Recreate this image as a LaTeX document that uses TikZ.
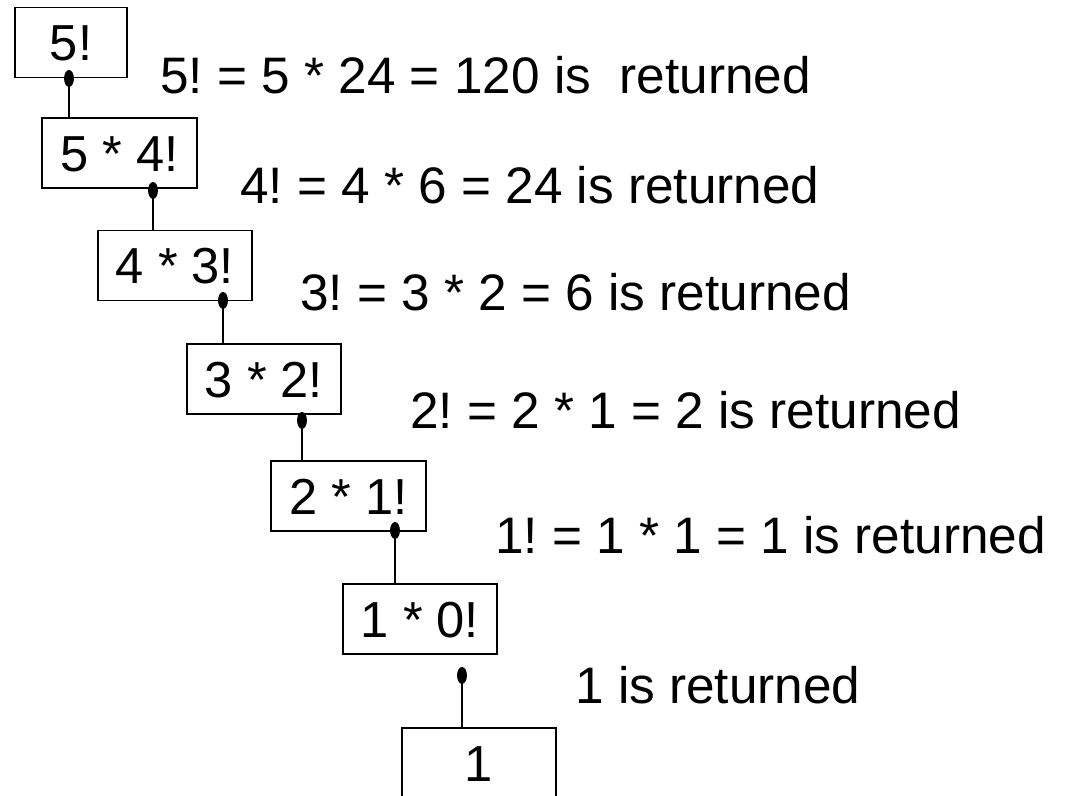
\documentclass[tikz,border=0pt]{standalone}
\usepackage{fontspec}
\setmainfont{Liberation Sans}
\usepackage{tikz}
\usetikzlibrary{arrows.meta, positioning}
\frenchspacing

\tikzset{
	callbox/.style={draw, line width=1.4pt, minimum width=3.85cm, minimum height=1.75cm, inner sep=0pt, text height=26pt, text depth=0pt, font=\fontsize{36}{40}\selectfont},
	retlabel/.style={anchor=west, inner sep=0pt, font=\fontsize{36.5}{40}\selectfont},
	link/.style={line width=1pt, {Ellipse[length=12pt, width=7pt]}-}
}

\begin{document}
\begin{tikzpicture}[x=0.025cm, y=-0.025cm]
		\useasboundingbox (0,0) rectangle (1073,796);
		% Paths, nodes and wires:
		\node[callbox, minimum width=2.8cm](B5) at (71, 42.5){5!};
		\node[callbox](B4) at (119.5, 153){5 * 4!};
		\node[callbox](B3) at (175, 265.5){4 * 3!};
		\node[callbox](B2) at (264, 379){3 * 2!};
		\node[callbox](B1) at (348.5, 496){2 * 1!};
		\node[callbox](B0) at (420, 619){1 * 0!};
		\node[callbox](BB) at (479, 763){1};
		% dots under the boxes
		\coordinate (C5) at (69, 70);
		\coordinate (C4) at (153, 182);
		\coordinate (C3) at (223, 292);
		\coordinate (C2) at (302, 412);
		\coordinate (C1) at (395, 522);
		\coordinate (C0) at (462, 667);
		\draw[link] (C5) -- (C5 |- B4.north);
		\draw[link] (C4) -- (C4 |- B3.north);
		\draw[link] (C3) -- (C3 |- B2.north);
		\draw[link] (C2) -- (C2 |- B1.north);
		\draw[link] (C1) -- (C1 |- B0.north);
		\draw[link] (C0) -- (C0 |- BB.north);
		% returned values
		\node[retlabel](R5) at (160, 75){5! = 5 * 24 = 120 is~ returned};
		\node[retlabel](R4) at (240, 185){4! = 4 * 6 = 24 is returned};
		\node[retlabel](R3) at (300, 292){3! = 3 * 2 = 6 is returned};
		\node[retlabel](R2) at (410, 410){2! = 2 * 1 = 2 is returned};
		\node[retlabel](R1) at (495, 535){1! = 1 * 1 = 1 is returned};
		\node[retlabel](R0) at (575, 685){1 is returned};
	\end{tikzpicture}
\end{document}
